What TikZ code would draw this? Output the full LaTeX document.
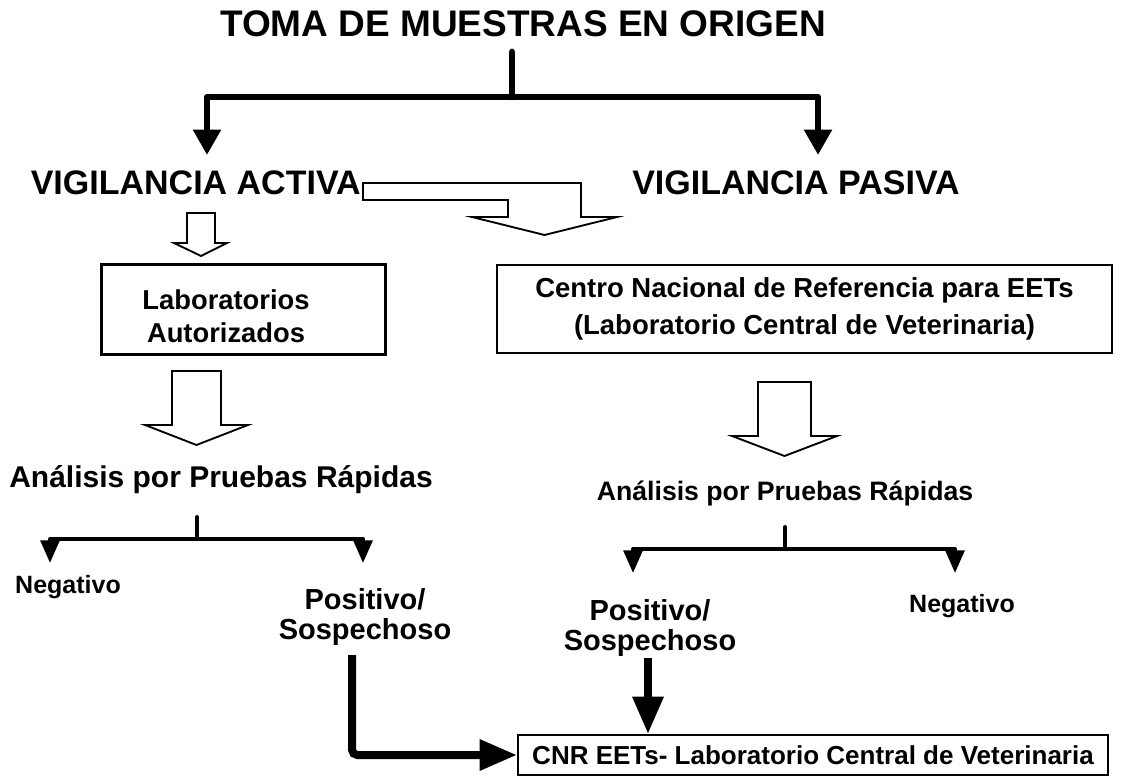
\documentclass[tikz,border=0pt]{standalone}
\usepackage{fontspec}
\setmainfont{Liberation Sans}
\usetikzlibrary{arrows.meta}
\newcommand{\tam}[2]{\fontsize{#1}{#2}\selectfont}

\begin{document}
\begin{tikzpicture}[x=0.75pt,y=-0.75pt,
	texto/.style={font=\bfseries, inner sep=0pt},
	caja/.style={draw, line width=2.25pt, inner sep=0pt},
	cajafina/.style={draw, line width=1.4pt, inner sep=0pt},
	hueca/.style={draw, line width=1.4pt, fill=white, line join=miter},
	grueso/.style={line width=5pt, line join=round, line cap=round},
	rama/.style={line width=3pt, line join=round, line cap=round},
	negra/.style={line width=6pt, rounded corners=4pt},
	]
	\useasboundingbox (0,0) rectangle (1148,780);
	% titulo
	\node[texto, anchor=base, font=\bfseries\tam{27.75}{32}] (toma) at (523,37) {TOMA DE MUESTRAS EN ORIGEN};
	\node[texto, anchor=base east, font=\bfseries\tam{25.5}{30}] (activa) at (361,195) {VIGILANCIA ACTIVA};
	\node[texto, anchor=base west, font=\bfseries\tam{25.5}{30}] (pasiva) at (632,195) {VIGILANCIA PASIVA};
	\coordinate (arranque) at (512,52);
	\coordinate (reparto) at (512,97);
	\coordinate (puntaA) at (207,155);
	\coordinate (puntaP) at (818,155);
	\draw[grueso] (arranque) -- (reparto);
	\draw[grueso, -{Triangle[length=19pt,width=20pt]}] (reparto) -| (puntaA);
	\draw[grueso, -{Triangle[length=19pt,width=20pt]}] (reparto) -| (puntaP);
	% flechas huecas de arriba
	\draw[hueca] (363,183) -- (581,183) -- (581,217) -- (617,217) -- (544.5,235) -- (472,217) -- (508,217) -- (508,200) -- (363,200) -- cycle;
	\draw[hueca] (187,213) -- (215,213) -- (215,243) -- (227,243) -- (201,256) -- (174,243) -- (187,243) -- cycle;
	% cajas
	\node[caja, minimum width=213pt, minimum height=66.75pt] (labs) at (243,309.5) {};
	\node[texto, align=center, font=\bfseries\tam{20.5}{25}] (labstexto) at (226,316) {Laboratorios\\Autorizados};
	\node[cajafina, minimum width=461.25pt, minimum height=66pt, align=center, font=\bfseries\tam{20.6}{27.75}] (centro) at (804.5,309) {Centro Nacional de Referencia para EETs\\(Laboratorio Central de Veterinaria)};
	% flechas huecas de abajo
	\draw[hueca] (172,371) -- (221,371) -- (221,425) -- (248,425) -- (196.5,445) -- (145,425) -- (172,425) -- cycle;
	\draw[hueca] (758,382) -- (811,382) -- (811,436) -- (837,436) -- (784.5,456) -- (732,436) -- (758,436) -- cycle;
	% pruebas rapidas
	\node[texto, anchor=base, font=\bfseries\tam{22.5}{27}] (analisisL) at (221,487) {Análisis por Pruebas Rápidas};
	\node[texto, anchor=base, font=\bfseries\tam{20}{24}] (analisisR) at (785,500) {Análisis por Pruebas Rápidas};
	\node[texto, anchor=base, font=\bfseries\tam{18.75}{22}] (negL) at (68,593) {Negativo};
	\node[texto, align=center, font=\bfseries\tam{21.75}{22.5}] (posL) at (365,616.5) {Positivo/\\Sospechoso};
	\node[texto, align=center, font=\bfseries\tam{21.75}{22}] (posR) at (650,628) {Positivo/\\Sospechoso};
	\node[texto, anchor=base, font=\bfseries\tam{18.75}{22}] (negR) at (962,612) {Negativo};
	% ramas
	\coordinate (raizL) at (197,517);
	\coordinate (nudoL) at (197,539);
	\draw[rama] (raizL) -- (nudoL);
	\draw[rama, -{Triangle[length=17pt,width=14pt]}] (nudoL) -| (50,563);
	\draw[rama, -{Triangle[length=17pt,width=14pt]}] (nudoL) -| (363,563);
	\coordinate (raizR) at (785,527);
	\coordinate (nudoR) at (785,549);
	\draw[rama] (raizR) -- (nudoR);
	\draw[rama, -{Triangle[length=17pt,width=14pt]}] (nudoR) -| (633,573);
	\draw[rama, -{Triangle[length=17pt,width=14pt]}] (nudoR) -| (955,573);
	% CNR
	\node[cajafina, minimum width=442.5pt, minimum height=30pt, font=\bfseries\tam{19.5}{23}] (cnr) at (813,755) {CNR EETs- Laboratorio Central de Veterinaria};
	\coordinate (bajaL) at (352,655);
	\coordinate (bajaR) at (648,658);
	\draw[negra, -{Triangle[length=28pt,width=22pt]}] (bajaL) |- (cnr.west);
	\draw[negra, -{Triangle[length=28pt,width=22pt]}] (bajaR) -- (bajaR |- cnr.north);
\end{tikzpicture}
\end{document}
